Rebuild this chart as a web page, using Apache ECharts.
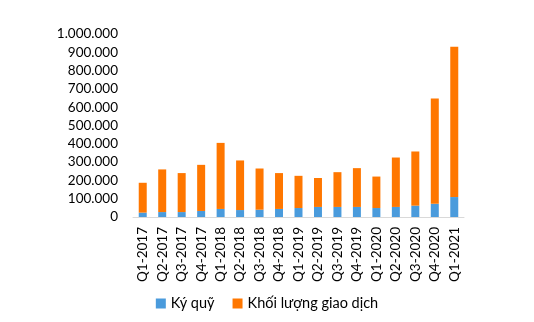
<!DOCTYPE html>
<html><head><meta charset="utf-8">
<script src="https://cdn.jsdelivr.net/npm/echarts@6/dist/echarts.min.js"></script>
<style>html,body{margin:0;padding:0;background:#fff}#c{width:534px;height:322px}</style>
</head><body><div id="c"></div>
<script>
const categories = ['Q1-2017','Q2-2017','Q3-2017','Q4-2017','Q1-2018','Q2-2018','Q3-2018','Q4-2018','Q1-2019','Q2-2019','Q3-2019','Q4-2019','Q1-2020','Q2-2020','Q3-2020','Q4-2020','Q1-2021'];
const kyQuy = [24000,27000,27000,33000,44000,38000,40000,44000,49000,55000,55000,55000,49000,55000,62000,72000,109000];
const khoiLuong = [163000,233000,213000,252000,361000,271000,225000,196000,176000,158000,190000,212000,172000,270000,296000,575000,821000];
const yTicks = [0,100000,200000,300000,400000,500000,600000,700000,800000,900000,1000000];
const font = 'Lato, "Open Sans", sans-serif';
const chart = echarts.init(document.getElementById('c'));
chart.setOption({
  animation:false,
  grid:{left:133,right:70,top:34,bottom:105},
  legend:{top:291,left:'center',itemWidth:10,itemHeight:10,itemGap:18,icon:'rect',
    textStyle:{fontFamily:font,fontSize:14.5,color:'#000'},data:['Ký quỹ','Khối lượng giao dịch']},
  xAxis:{type:'category',data:categories,
    axisLine:{lineStyle:{color:'#d9d9d9',width:1}},axisTick:{show:false},
    axisLabel:{rotate:90,interval:0,margin:10,fontFamily:font,fontSize:13.5,color:'#000'}},
  yAxis:{type:'value',min:yTicks[0],max:yTicks[yTicks.length-1],interval:100000,
    splitLine:{show:false},axisLine:{show:false},axisTick:{show:false},
    axisLabel:{margin:15,fontFamily:font,fontSize:13.5,color:'#000',
      formatter:v=>v===0?'0':v.toString().replace(/\B(?=(\d{3})+(?!\d))/g,'.')}},
  series:[
    {name:'Ký quỹ',type:'bar',stack:'a',data:kyQuy,barWidth:8,itemStyle:{color:'#4a9bdc'}},
    {name:'Khối lượng giao dịch',type:'bar',stack:'a',data:khoiLuong,barWidth:8,itemStyle:{color:'#ff7700'}}
  ]
});
</script></body></html>
